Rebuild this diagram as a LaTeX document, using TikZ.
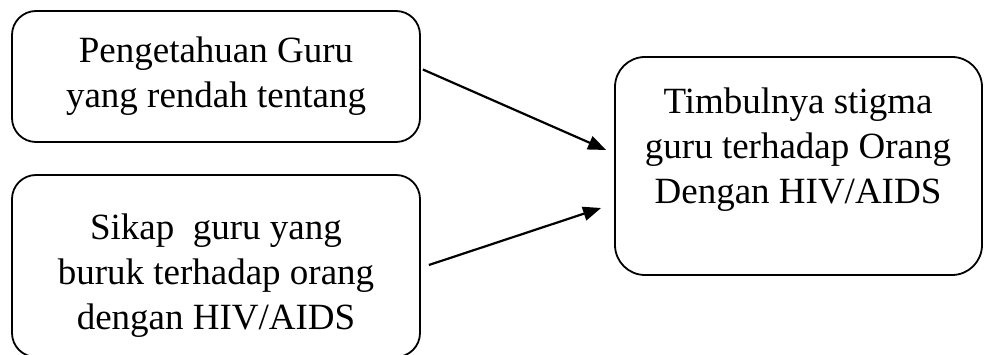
\documentclass[tikz,border=0pt]{standalone}
\usepackage{fontspec}
\setmainfont{Liberation Serif}
\usetikzlibrary{calc,arrows.meta}
\begin{document}
\begin{tikzpicture}[x=1pt,y=-1pt,
  box/.style={draw,line width=1.8pt,rounded corners=24pt,inner sep=0pt},
  txt/.style={align=center,font=\fontsize{37}{45}\selectfont,inner sep=0pt},
  arr/.style={line width=2.2pt,-{Triangle[length=18pt,width=14pt]}}]
\useasboundingbox (0,0) rectangle (993,355);
\begin{scope}
\clip (0,0) rectangle (993,355);
\node[box,minimum width=408pt,minimum height=131pt] (A) at (216,76.5) {};
\node[box,minimum width=408pt,minimum height=182pt] (B) at (216,266) {};
\node[box,rounded corners=30pt,minimum width=367pt,minimum height=218pt] (C) at (798.5,166) {};
\end{scope}
\node[txt] (tA) at (216,76) {Pengetahuan Guru\\yang rendah tentang};
\node[txt] (tB) at (216,276) {Sikap\ \ guru yang\\buruk terhadap orang\\dengan HIV/AIDS};
\node[txt] (tC) at (798,150) {Timbulnya stigma\\guru terhadap Orang\\Dengan HIV/AIDS};
\draw[arr] ($(A.east)+(2,-7)$) -- ($(C.west)+(-8,-16)$);
\draw[arr] ($(B.east)+(8,-1)$) -- ($(C.west)+(-13,42)$);
\end{tikzpicture}
\end{document}
